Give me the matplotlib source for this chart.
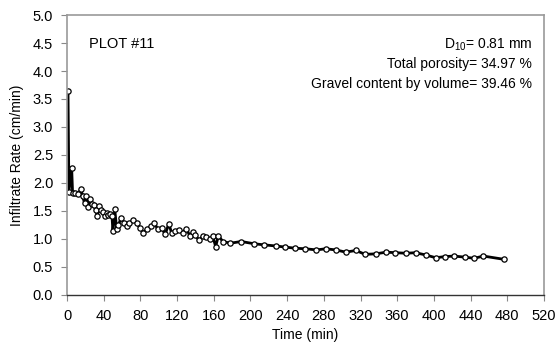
import matplotlib
matplotlib.use("Agg")
import matplotlib.pyplot as plt

plt.rcParams['font.family'] = ['Liberation Sans', 'DejaVu Sans']
plt.rcParams['mathtext.fontset'] = 'custom'
plt.rcParams['mathtext.rm'] = 'Liberation Sans'

# infiltration test, plot #11
time_min = [1, 2, 5, 6, 9, 12, 15, 17, 19, 21, 23, 25, 27, 29, 31, 33, 35, 37,
            39, 41, 43, 45, 47, 49, 50, 52, 54, 56, 59, 62, 65, 68, 72, 76, 79,
            83, 87, 91, 95, 99, 103, 107, 111, 114, 118, 122, 126, 130, 134,
            137, 140, 144, 148, 152, 156, 159, 162, 165, 170, 178, 190, 204,
            215, 228, 238, 249, 260, 272, 282, 293, 304, 315, 325, 337, 348,
            358, 370, 380, 391, 402, 412, 422, 434, 444, 454, 477]
rate = [3.65, 1.84, 2.26, 1.82, 1.82, 1.80, 1.89, 1.76, 1.64, 1.76, 1.57, 1.71,
        1.63, 1.60, 1.52, 1.41, 1.58, 1.52, 1.48, 1.40, 1.46, 1.42, 1.45, 1.40,
        1.13, 1.53, 1.18, 1.25, 1.37, 1.29, 1.22, 1.28, 1.33, 1.28, 1.20, 1.11,
        1.17, 1.22, 1.28, 1.17, 1.19, 1.08, 1.27, 1.10, 1.14, 1.15, 1.11, 1.18,
        1.05, 1.12, 1.06, 0.97, 1.05, 1.03, 1.00, 1.04, 0.86, 1.05, 0.95, 0.92,
        0.95, 0.91, 0.89, 0.87, 0.85, 0.83, 0.82, 0.80, 0.82, 0.80, 0.76, 0.79,
        0.72, 0.73, 0.76, 0.75, 0.74, 0.75, 0.71, 0.66, 0.68, 0.69, 0.67, 0.65,
        0.69, 0.63]

x_ticks = list(range(0, 521, 40))
y_ticks = [0.0, 0.5, 1.0, 1.5, 2.0, 2.5, 3.0, 3.5, 4.0, 4.5, 5.0]

fig = plt.figure(figsize=(5.59, 3.52), dpi=100)
ax = fig.add_axes([0.12, 0.163, 0.853, 0.794])

ax.plot(time_min, rate, color='black', lw=2.0, marker='o', ms=3.8,
        mfc='white', mec='black', mew=0.9)

ax.set_xlim(0, 520)
ax.set_ylim(0, 5)
ax.set_xticks(x_ticks)
ax.set_yticks(y_ticks)
ax.set_yticklabels([f"{v:.1f}" for v in y_ticks])
ax.tick_params(labelsize=10.5, length=4, width=0.8, color='#888888', pad=6)

for side in ['left', 'top', 'right']:
    ax.spines[side].set_color('#9a9a9a')
    ax.spines[side].set_linewidth(1.2)
ax.spines['bottom'].set_color('#333333')
ax.spines['bottom'].set_linewidth(1.0)

ax.set_xlabel('Time (min)', fontsize=10, labelpad=4)
ax.set_ylabel('Infiltrate Rate (cm/min)', fontsize=10, labelpad=6)

ax.text(0.045, 0.895, 'PLOT #11', transform=ax.transAxes, fontsize=10.5,
        ha='left', va='center')
ax.text(0.975, 0.895, r'D$_{10}$= 0.81 mm', transform=ax.transAxes,
        fontsize=10, ha='right', va='center')
ax.text(0.975, 0.825, 'Total porosity= 34.97 %', transform=ax.transAxes,
        fontsize=10, ha='right', va='center')
ax.text(0.975, 0.752, 'Gravel content by volume= 39.46 %',
        transform=ax.transAxes, fontsize=10, ha='right', va='center')

fig.savefig('out.png', dpi=100)
